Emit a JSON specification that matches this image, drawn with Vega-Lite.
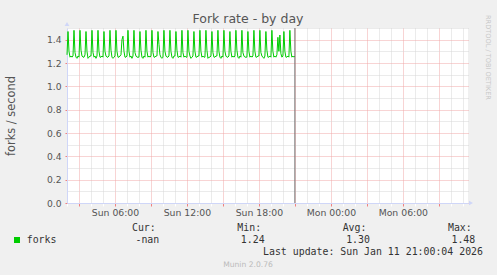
{
  "$schema": "https://vega.github.io/schema/vega-lite/v6.json",
  "width": 401,
  "height": 175,
  "autosize": {"type": "none"},
  "padding": {"left": 67, "top": 28, "right": 29, "bottom": 72},
  "background": "#F0F0F0",
  "config": {
    "view": {"fill": "#FFFFFF", "stroke": null},
    "font": "DejaVu Sans",
    "axis": {"labelFont": "DejaVu Sans", "titleFont": "DejaVu Sans"}
  },
  "layer": [
    {
      "data": {"values": [
      {"t":"2026-01-11T02:00","v":1.27},{"t":"2026-01-11T02:05","v":1.47},{"t":"2026-01-11T02:10","v":1.30},{"t":"2026-01-11T02:15","v":1.25},{"t":"2026-01-11T02:20","v":1.26},{"t":"2026-01-11T02:25","v":1.25},{"t":"2026-01-11T02:30","v":1.26},{"t":"2026-01-11T02:35","v":1.48},{"t":"2026-01-11T02:40","v":1.29},{"t":"2026-01-11T02:45","v":1.25},{"t":"2026-01-11T02:50","v":1.24},{"t":"2026-01-11T02:55","v":1.26},
      {"t":"2026-01-11T03:00","v":1.25},{"t":"2026-01-11T03:05","v":1.48},{"t":"2026-01-11T03:10","v":1.31},{"t":"2026-01-11T03:15","v":1.26},{"t":"2026-01-11T03:20","v":1.25},{"t":"2026-01-11T03:25","v":1.25},{"t":"2026-01-11T03:30","v":1.27},{"t":"2026-01-11T03:35","v":1.47},{"t":"2026-01-11T03:40","v":1.30},{"t":"2026-01-11T03:45","v":1.24},{"t":"2026-01-11T03:50","v":1.25},{"t":"2026-01-11T03:55","v":1.26},
      {"t":"2026-01-11T04:00","v":1.26},{"t":"2026-01-11T04:05","v":1.48},{"t":"2026-01-11T04:10","v":1.29},{"t":"2026-01-11T04:15","v":1.25},{"t":"2026-01-11T04:20","v":1.26},{"t":"2026-01-11T04:25","v":1.24},{"t":"2026-01-11T04:30","v":1.26},{"t":"2026-01-11T04:35","v":1.48},{"t":"2026-01-11T04:40","v":1.30},{"t":"2026-01-11T04:45","v":1.25},{"t":"2026-01-11T04:50","v":1.25},{"t":"2026-01-11T04:55","v":1.26},
      {"t":"2026-01-11T05:00","v":1.25},{"t":"2026-01-11T05:05","v":1.47},{"t":"2026-01-11T05:10","v":1.30},{"t":"2026-01-11T05:15","v":1.26},{"t":"2026-01-11T05:20","v":1.25},{"t":"2026-01-11T05:25","v":1.25},{"t":"2026-01-11T05:30","v":1.26},{"t":"2026-01-11T05:35","v":1.48},{"t":"2026-01-11T05:40","v":1.31},{"t":"2026-01-11T05:45","v":1.25},{"t":"2026-01-11T05:50","v":1.24},{"t":"2026-01-11T05:55","v":1.25},
      {"t":"2026-01-11T06:00","v":1.26},{"t":"2026-01-11T06:05","v":1.48},{"t":"2026-01-11T06:10","v":1.30},{"t":"2026-01-11T06:15","v":1.25},{"t":"2026-01-11T06:20","v":1.25},{"t":"2026-01-11T06:25","v":1.26},{"t":"2026-01-11T06:30","v":1.27},{"t":"2026-01-11T06:35","v":1.40},{"t":"2026-01-11T06:40","v":1.43},{"t":"2026-01-11T06:45","v":1.30},{"t":"2026-01-11T06:50","v":1.25},{"t":"2026-01-11T06:55","v":1.25},
      {"t":"2026-01-11T07:00","v":1.26},{"t":"2026-01-11T07:05","v":1.48},{"t":"2026-01-11T07:10","v":1.30},{"t":"2026-01-11T07:15","v":1.25},{"t":"2026-01-11T07:20","v":1.26},{"t":"2026-01-11T07:25","v":1.24},{"t":"2026-01-11T07:30","v":1.26},{"t":"2026-01-11T07:35","v":1.48},{"t":"2026-01-11T07:40","v":1.29},{"t":"2026-01-11T07:45","v":1.26},{"t":"2026-01-11T07:50","v":1.25},{"t":"2026-01-11T07:55","v":1.25},
      {"t":"2026-01-11T08:00","v":1.25},{"t":"2026-01-11T08:05","v":1.47},{"t":"2026-01-11T08:10","v":1.31},{"t":"2026-01-11T08:15","v":1.25},{"t":"2026-01-11T08:20","v":1.24},{"t":"2026-01-11T08:25","v":1.26},{"t":"2026-01-11T08:30","v":1.25},{"t":"2026-01-11T08:35","v":1.48},{"t":"2026-01-11T08:40","v":1.30},{"t":"2026-01-11T08:45","v":1.25},{"t":"2026-01-11T08:50","v":1.26},{"t":"2026-01-11T08:55","v":1.25},
      {"t":"2026-01-11T09:00","v":1.26},{"t":"2026-01-11T09:05","v":1.48},{"t":"2026-01-11T09:10","v":1.29},{"t":"2026-01-11T09:15","v":1.25},{"t":"2026-01-11T09:20","v":1.25},{"t":"2026-01-11T09:25","v":1.26},{"t":"2026-01-11T09:30","v":1.26},{"t":"2026-01-11T09:35","v":1.47},{"t":"2026-01-11T09:40","v":1.36},{"t":"2026-01-11T09:45","v":1.27},{"t":"2026-01-11T09:50","v":1.25},{"t":"2026-01-11T09:55","v":1.24},
      {"t":"2026-01-11T10:00","v":1.25},{"t":"2026-01-11T10:05","v":1.48},{"t":"2026-01-11T10:10","v":1.30},{"t":"2026-01-11T10:15","v":1.26},{"t":"2026-01-11T10:20","v":1.25},{"t":"2026-01-11T10:25","v":1.25},{"t":"2026-01-11T10:30","v":1.26},{"t":"2026-01-11T10:35","v":1.48},{"t":"2026-01-11T10:40","v":1.30},{"t":"2026-01-11T10:45","v":1.25},{"t":"2026-01-11T10:50","v":1.24},{"t":"2026-01-11T10:55","v":1.26},
      {"t":"2026-01-11T11:00","v":1.26},{"t":"2026-01-11T11:05","v":1.47},{"t":"2026-01-11T11:10","v":1.31},{"t":"2026-01-11T11:15","v":1.25},{"t":"2026-01-11T11:20","v":1.25},{"t":"2026-01-11T11:25","v":1.26},{"t":"2026-01-11T11:30","v":1.25},{"t":"2026-01-11T11:35","v":1.48},{"t":"2026-01-11T11:40","v":1.29},{"t":"2026-01-11T11:45","v":1.25},{"t":"2026-01-11T11:50","v":1.26},{"t":"2026-01-11T11:55","v":1.25},
      {"t":"2026-01-11T12:00","v":1.25},{"t":"2026-01-11T12:05","v":1.48},{"t":"2026-01-11T12:10","v":1.30},{"t":"2026-01-11T12:15","v":1.26},{"t":"2026-01-11T12:20","v":1.24},{"t":"2026-01-11T12:25","v":1.25},{"t":"2026-01-11T12:30","v":1.26},{"t":"2026-01-11T12:35","v":1.47},{"t":"2026-01-11T12:40","v":1.30},{"t":"2026-01-11T12:45","v":1.25},{"t":"2026-01-11T12:50","v":1.25},{"t":"2026-01-11T12:55","v":1.26},
      {"t":"2026-01-11T13:00","v":1.26},{"t":"2026-01-11T13:05","v":1.48},{"t":"2026-01-11T13:10","v":1.30},{"t":"2026-01-11T13:15","v":1.25},{"t":"2026-01-11T13:20","v":1.26},{"t":"2026-01-11T13:25","v":1.25},{"t":"2026-01-11T13:30","v":1.25},{"t":"2026-01-11T13:35","v":1.48},{"t":"2026-01-11T13:40","v":1.31},{"t":"2026-01-11T13:45","v":1.24},{"t":"2026-01-11T13:50","v":1.25},{"t":"2026-01-11T13:55","v":1.25},
      {"t":"2026-01-11T14:00","v":1.26},{"t":"2026-01-11T14:05","v":1.47},{"t":"2026-01-11T14:10","v":1.29},{"t":"2026-01-11T14:15","v":1.25},{"t":"2026-01-11T14:20","v":1.25},{"t":"2026-01-11T14:25","v":1.26},{"t":"2026-01-11T14:30","v":1.26},{"t":"2026-01-11T14:35","v":1.48},{"t":"2026-01-11T14:40","v":1.30},{"t":"2026-01-11T14:45","v":1.25},{"t":"2026-01-11T14:50","v":1.24},{"t":"2026-01-11T14:55","v":1.26},
      {"t":"2026-01-11T15:00","v":1.25},{"t":"2026-01-11T15:05","v":1.48},{"t":"2026-01-11T15:10","v":1.30},{"t":"2026-01-11T15:15","v":1.26},{"t":"2026-01-11T15:20","v":1.25},{"t":"2026-01-11T15:25","v":1.25},{"t":"2026-01-11T15:30","v":1.26},{"t":"2026-01-11T15:35","v":1.47},{"t":"2026-01-11T15:40","v":1.30},{"t":"2026-01-11T15:45","v":1.25},{"t":"2026-01-11T15:50","v":1.26},{"t":"2026-01-11T15:55","v":1.25},
      {"t":"2026-01-11T16:00","v":1.26},{"t":"2026-01-11T16:05","v":1.48},{"t":"2026-01-11T16:10","v":1.31},{"t":"2026-01-11T16:15","v":1.25},{"t":"2026-01-11T16:20","v":1.24},{"t":"2026-01-11T16:25","v":1.26},{"t":"2026-01-11T16:30","v":1.25},{"t":"2026-01-11T16:35","v":1.48},{"t":"2026-01-11T16:40","v":1.29},{"t":"2026-01-11T16:45","v":1.26},{"t":"2026-01-11T16:50","v":1.25},{"t":"2026-01-11T16:55","v":1.25},
      {"t":"2026-01-11T17:00","v":1.25},{"t":"2026-01-11T17:05","v":1.47},{"t":"2026-01-11T17:10","v":1.30},{"t":"2026-01-11T17:15","v":1.25},{"t":"2026-01-11T17:20","v":1.26},{"t":"2026-01-11T17:25","v":1.25},{"t":"2026-01-11T17:30","v":1.26},{"t":"2026-01-11T17:35","v":1.48},{"t":"2026-01-11T17:40","v":1.30},{"t":"2026-01-11T17:45","v":1.25},{"t":"2026-01-11T17:50","v":1.25},{"t":"2026-01-11T17:55","v":1.26},
      {"t":"2026-01-11T18:00","v":1.26},{"t":"2026-01-11T18:05","v":1.48},{"t":"2026-01-11T18:10","v":1.29},{"t":"2026-01-11T18:15","v":1.26},{"t":"2026-01-11T18:20","v":1.25},{"t":"2026-01-11T18:25","v":1.24},{"t":"2026-01-11T18:30","v":1.26},{"t":"2026-01-11T18:35","v":1.47},{"t":"2026-01-11T18:40","v":1.31},{"t":"2026-01-11T18:45","v":1.25},{"t":"2026-01-11T18:50","v":1.25},{"t":"2026-01-11T18:55","v":1.26},
      {"t":"2026-01-11T19:00","v":1.25},{"t":"2026-01-11T19:05","v":1.48},{"t":"2026-01-11T19:10","v":1.30},{"t":"2026-01-11T19:15","v":1.25},{"t":"2026-01-11T19:20","v":1.26},{"t":"2026-01-11T19:25","v":1.25},{"t":"2026-01-11T19:30","v":1.27},{"t":"2026-01-11T19:35","v":1.42},{"t":"2026-01-11T19:40","v":1.30},{"t":"2026-01-11T19:45","v":1.44},{"t":"2026-01-11T19:50","v":1.28},{"t":"2026-01-11T19:55","v":1.25},
      {"t":"2026-01-11T20:00","v":1.26},{"t":"2026-01-11T20:05","v":1.47},{"t":"2026-01-11T20:10","v":1.30},{"t":"2026-01-11T20:15","v":1.25},{"t":"2026-01-11T20:20","v":1.25},{"t":"2026-01-11T20:25","v":1.26},{"t":"2026-01-11T20:30","v":1.25},{"t":"2026-01-11T20:35","v":1.48},{"t":"2026-01-11T20:40","v":1.30},{"t":"2026-01-11T20:45","v":1.25},{"t":"2026-01-11T20:50","v":1.26},{"t":"2026-01-11T20:55","v":1.25},
      {"t":"2026-01-11T21:00","v":1.26}
      ]},
      "mark": {"type": "line", "color": "#00CC00", "strokeWidth": 1},
      "encoding": {
        "x": {
          "field": "t", "type": "temporal",
          "scale": {"domain": [{"year": 2026, "month": 1, "date": 11, "hours": 2, "minutes": 0}, {"year": 2026, "month": 1, "date": 12, "hours": 11, "minutes": 26}], "nice": false},
          "axis": {
            "title": null,
            "values": [
              {"year": 2026, "month": 1, "date": 11, "hours": 2},
              {"year": 2026, "month": 1, "date": 11, "hours": 3},
              {"year": 2026, "month": 1, "date": 11, "hours": 4},
              {"year": 2026, "month": 1, "date": 11, "hours": 5},
              {"year": 2026, "month": 1, "date": 11, "hours": 6},
              {"year": 2026, "month": 1, "date": 11, "hours": 7},
              {"year": 2026, "month": 1, "date": 11, "hours": 8},
              {"year": 2026, "month": 1, "date": 11, "hours": 9},
              {"year": 2026, "month": 1, "date": 11, "hours": 10},
              {"year": 2026, "month": 1, "date": 11, "hours": 11},
              {"year": 2026, "month": 1, "date": 11, "hours": 12},
              {"year": 2026, "month": 1, "date": 11, "hours": 13},
              {"year": 2026, "month": 1, "date": 11, "hours": 14},
              {"year": 2026, "month": 1, "date": 11, "hours": 15},
              {"year": 2026, "month": 1, "date": 11, "hours": 16},
              {"year": 2026, "month": 1, "date": 11, "hours": 17},
              {"year": 2026, "month": 1, "date": 11, "hours": 18},
              {"year": 2026, "month": 1, "date": 11, "hours": 19},
              {"year": 2026, "month": 1, "date": 11, "hours": 20},
              {"year": 2026, "month": 1, "date": 11, "hours": 21},
              {"year": 2026, "month": 1, "date": 11, "hours": 22},
              {"year": 2026, "month": 1, "date": 11, "hours": 23},
              {"year": 2026, "month": 1, "date": 12, "hours": 0},
              {"year": 2026, "month": 1, "date": 12, "hours": 1},
              {"year": 2026, "month": 1, "date": 12, "hours": 2},
              {"year": 2026, "month": 1, "date": 12, "hours": 3},
              {"year": 2026, "month": 1, "date": 12, "hours": 4},
              {"year": 2026, "month": 1, "date": 12, "hours": 5},
              {"year": 2026, "month": 1, "date": 12, "hours": 6},
              {"year": 2026, "month": 1, "date": 12, "hours": 7},
              {"year": 2026, "month": 1, "date": 12, "hours": 8},
              {"year": 2026, "month": 1, "date": 12, "hours": 9},
              {"year": 2026, "month": 1, "date": 12, "hours": 10},
              {"year": 2026, "month": 1, "date": 12, "hours": 11}
            ],
            "format": "%a %H:%M",
            "labelExpr": "hours(datum.value) % 6 === 0 ? datum.label : ''",
            "labelOverlap": false,
            "labelFontSize": 9.3,
            "labelColor": "#555555",
            "labelPadding": 2,
            "grid": true,
            "gridDash": [1, 1],
            "gridColor": {"condition": {"test": "hours(datum.value) % 3 === 0", "value": "#F0A8A8"}, "value": "#D6D6D6"},
            "tickSize": 3,
            "tickColor": {"condition": {"test": "hours(datum.value) % 3 === 0", "value": "#F08080"}, "value": "#FFFFFF"},
            "domainColor": "#CFD6F8"
          }
        },
        "y": {
          "field": "v", "type": "quantitative",
          "scale": {"domain": [0, 1.5], "nice": false},
          "axis": {
            "title": "forks / second",
            "titleFontSize": 11.4,
            "titleFontWeight": "normal",
            "titleColor": "#555555",
            "titlePadding": 30,
            "values": [0, 0.1, 0.2, 0.3, 0.4, 0.5, 0.6, 0.7, 0.8, 0.9, 1.0, 1.1, 1.2, 1.3, 1.4, 1.5],
            "format": ".1f",
            "labelExpr": "round(datum.value * 10) % 2 === 0 ? datum.label : ''",
            "labelFontSize": 9.2,
            "labelColor": "#555555",
            "labelPadding": 4,
            "grid": true,
            "gridDash": [1, 1],
            "gridColor": {"condition": {"test": "round(datum.value * 10) % 2 === 0", "value": "#F0A8A8"}, "value": "#D6D6D6"},
            "tickSize": 2,
            "tickColor": {"condition": {"test": "round(datum.value * 10) % 2 === 0", "value": "#F08080"}, "value": "#F0F0F0"},
            "domainColor": "#CFD6F8"
          }
        }
      }
    },
    {
      "data": {"values": [{"t": "2026-01-11T21:00"}]},
      "mark": {"type": "rule", "color": "#707070", "strokeWidth": 1},
      "encoding": {
        "x": {"field": "t", "type": "temporal", "axis": null,
              "scale": {"domain": [{"year": 2026, "month": 1, "date": 11, "hours": 2, "minutes": 0}, {"year": 2026, "month": 1, "date": 12, "hours": 11, "minutes": 26}], "nice": false}}
      }
    },
    {
      "data": {"values": [{"k": "title", "text": "Fork rate - by day"}]},
      "mark": {"type": "text", "font": "DejaVu Sans", "fontSize": 12.5, "color": "#555555", "align": "center", "baseline": "alphabetic"},
      "encoding": {
        "x": {"field": "k", "type": "nominal", "scale": {"type": "point", "domain": ["title"], "range": [181, 181]}, "axis": null},
        "y": {"field": "k", "type": "nominal", "scale": {"type": "point", "domain": ["title"], "range": [-5, -5]}, "axis": null},
        "text": {"field": "text"}
      }
    },
    {
      "data": {"values": [{"k": "rrd", "text": "RRDTOOL / TOBI OETIKER"}]},
      "mark": {"type": "text", "font": "DejaVu Sans", "fontSize": 6.6, "color": "#C8C8C8", "align": "left", "baseline": "middle", "angle": 90},
      "encoding": {
        "x": {"field": "k", "type": "nominal", "scale": {"type": "point", "domain": ["rrd"], "range": [421, 421]}, "axis": null},
        "y": {"field": "k", "type": "nominal", "scale": {"type": "point", "domain": ["rrd"], "range": [-13, -13]}, "axis": null},
        "text": {"field": "text"}
      }
    },
    {
      "data": {"values": [
        {"stat": "Cur", "line": "head", "label": "Cur:"},
        {"stat": "Min", "line": "head", "label": "Min:"},
        {"stat": "Avg", "line": "head", "label": "Avg:"},
        {"stat": "Max", "line": "head", "label": "Max:"},
        {"stat": "Cur", "line": "val", "label": "-nan"},
        {"stat": "Min", "line": "val", "label": "1.24"},
        {"stat": "Avg", "line": "val", "label": "1.30"},
        {"stat": "Max", "line": "val", "label": "1.48"}
      ]},
      "mark": {"type": "text", "font": "DejaVu Sans Mono", "fontSize": 9.9, "color": "#333333", "align": "right", "baseline": "alphabetic"},
      "encoding": {
        "x": {"field": "stat", "type": "nominal", "scale": {"type": "point", "domain": ["Cur", "Min", "Avg", "Max"], "range": [87, 403], "padding": 0}, "axis": null},
        "y": {"field": "line", "type": "nominal", "scale": {"type": "point", "domain": ["head", "val"], "range": [203.3, 215], "padding": 0}, "axis": null},
        "xOffset": {"field": "line", "type": "nominal", "scale": {"domain": ["head", "val"], "range": [0, 7]}},
        "text": {"field": "label"}
      }
    },
    {
      "data": {"values": [{"k": "series", "text": "forks"}]},
      "mark": {"type": "text", "font": "DejaVu Sans Mono", "fontSize": 9.9, "color": "#333333", "align": "left", "baseline": "alphabetic"},
      "encoding": {
        "x": {"field": "k", "type": "nominal", "scale": {"type": "point", "domain": ["series"], "range": [-40.3, -40.3]}, "axis": null},
        "y": {"field": "k", "type": "nominal", "scale": {"type": "point", "domain": ["series"], "range": [215, 215]}, "axis": null},
        "text": {"field": "text"}
      }
    },
    {
      "data": {"values": [{"k": "series"}]},
      "mark": {"type": "point", "shape": "square", "filled": true, "size": 36, "color": "#00CC00", "opacity": 1},
      "encoding": {
        "x": {"field": "k", "type": "nominal", "scale": {"type": "point", "domain": ["series"], "range": [-50, -50]}, "axis": null},
        "y": {"field": "k", "type": "nominal", "scale": {"type": "point", "domain": ["series"], "range": [212, 212]}, "axis": null}
      }
    },
    {
      "data": {"values": [{"k": "update", "text": "Last update: Sun Jan 11 21:00:04 2026"}]},
      "mark": {"type": "text", "font": "DejaVu Sans Mono", "fontSize": 9.9, "color": "#333333", "align": "right", "baseline": "alphabetic"},
      "encoding": {
        "x": {"field": "k", "type": "nominal", "scale": {"type": "point", "domain": ["update"], "range": [416, 416]}, "axis": null},
        "y": {"field": "k", "type": "nominal", "scale": {"type": "point", "domain": ["update"], "range": [227.3, 227.3]}, "axis": null},
        "text": {"field": "text"}
      }
    },
    {
      "data": {"values": [{"k": "version", "text": "Munin 2.0.76"}]},
      "mark": {"type": "text", "font": "DejaVu Sans", "fontSize": 7.6, "color": "#BBBBBB", "align": "center", "baseline": "alphabetic"},
      "encoding": {
        "x": {"field": "k", "type": "nominal", "scale": {"type": "point", "domain": ["version"], "range": [181, 181]}, "axis": null},
        "y": {"field": "k", "type": "nominal", "scale": {"type": "point", "domain": ["version"], "range": [239, 239]}, "axis": null},
        "text": {"field": "text"}
      }
    },
    {
      "data": {"values": [{"k": "up"}]},
      "mark": {"type": "point", "shape": "triangle-up", "filled": true, "size": 22, "color": "#CFD6F8", "opacity": 1},
      "encoding": {
        "x": {"field": "k", "type": "nominal", "scale": {"type": "point", "domain": ["up"], "range": [0, 0]}, "axis": null},
        "y": {"field": "k", "type": "nominal", "scale": {"type": "point", "domain": ["up"], "range": [-4, -4]}, "axis": null}
      }
    },
    {
      "data": {"values": [{"k": "right"}]},
      "mark": {"type": "point", "shape": "triangle-right", "filled": true, "size": 22, "color": "#CFD6F8", "opacity": 1},
      "encoding": {
        "x": {"field": "k", "type": "nominal", "scale": {"type": "point", "domain": ["right"], "range": [404, 404]}, "axis": null},
        "y": {"field": "k", "type": "nominal", "scale": {"type": "point", "domain": ["right"], "range": [175, 175]}, "axis": null}
      }
    }
  ],
  "resolve": {"scale": {"x": "independent", "y": "independent", "xOffset": "independent"}}
}
